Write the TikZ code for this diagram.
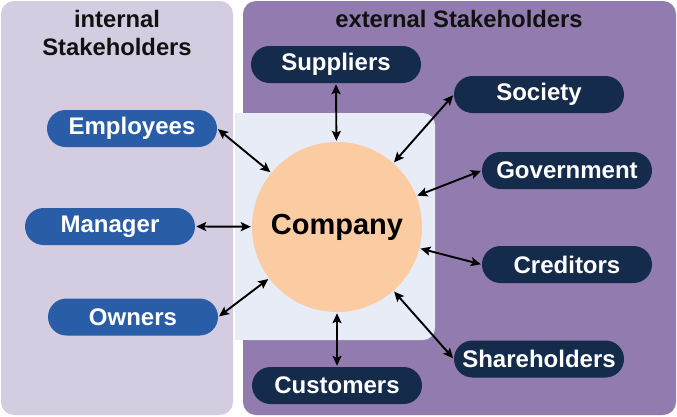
\documentclass[tikz,border=0pt]{standalone}
\usepackage{fontspec}
\setmainfont{Liberation Sans}
\usetikzlibrary{arrows.meta}
\definecolor{intpanel}{HTML}{D4CCE0}
\definecolor{extpanel}{HTML}{927BAE}
\definecolor{centerbg}{HTML}{E8ECF7}
\definecolor{compfill}{HTML}{FBCBA1}
\definecolor{intbox}{HTML}{2A5DA8}
\definecolor{extbox}{HTML}{142B4C}
\definecolor{titlecol}{HTML}{111111}
\tikzset{
  pill/.style={rectangle, rounded corners=18.5pt, minimum width=170pt, minimum height=37pt,
    inner sep=0pt, text=white, font=\fontsize{24}{26}\selectfont\bfseries},
  intpill/.style={pill, fill=intbox},
  extpill/.style={pill, fill=extbox},
  title/.style={anchor=base, text=titlecol, font=\fontsize{23.8}{26}\selectfont\bfseries, inner sep=0pt},
  link/.style={draw=black, line width=1.9pt, {Stealth[length=10pt,width=9pt,inset=2pt]}-{Stealth[length=10pt,width=9pt,inset=2pt]}, shorten <=1pt, shorten >=1pt}
}
\begin{document}
\begin{tikzpicture}[x=1pt,y=-1pt]
\useasboundingbox (0,0) rectangle (677,416);
% panels
\fill[intpanel, rounded corners=13pt] (1,1) rectangle (233,415);
\fill[extpanel, rounded corners=13pt] (243,1) rectangle (676,415);
\fill[centerbg, rounded corners=12pt] (235,113) rectangle (435,340);
\fill[centerbg] (235,113) rectangle (300,340);
% titles
\node[title] (tint1) at (117,27) {internal};
\node[title] (tint2) at (117,55) {Stakeholders};
\node[title] (text1) at (459,27) {external Stakeholders};
% company
\node[circle, fill=compfill, minimum size=170pt, inner sep=0pt, font=\fontsize{29}{32}\selectfont\bfseries] (company) at (337,227) {Company};
% internal
\node[intpill] (employees) at (132,128.5) {Employees};
\node[intpill] (manager) at (110,226.5) {Manager};
\node[intpill] (owners) at (133,317) {Owners};
% external
\node[extpill] (suppliers) at (336,64.5) {Suppliers};
\node[extpill] (society) at (539,94.5) {Society};
\node[extpill] (government) at (567,170.5) {Government};
\node[extpill] (creditors) at (567,264.5) {Creditors};
\node[extpill] (shareholders) at (539,359) {Shareholders};
\node[extpill] (customers) at (337,385.5) {Customers};
% links
\draw[link] (employees.east) -- (company);
\draw[link] (manager.east) -- (company);
\draw[link] (owners.east) -- (company);
\draw[link] (suppliers.south) -- (company);
\draw[link] (society.west) -- (company);
\draw[link] (government.west) -- (company);
\draw[link] (creditors.west) -- (company);
\draw[link] (shareholders.west) -- (company);
\draw[link] (customers.north) -- (company);
\end{tikzpicture}
\end{document}
